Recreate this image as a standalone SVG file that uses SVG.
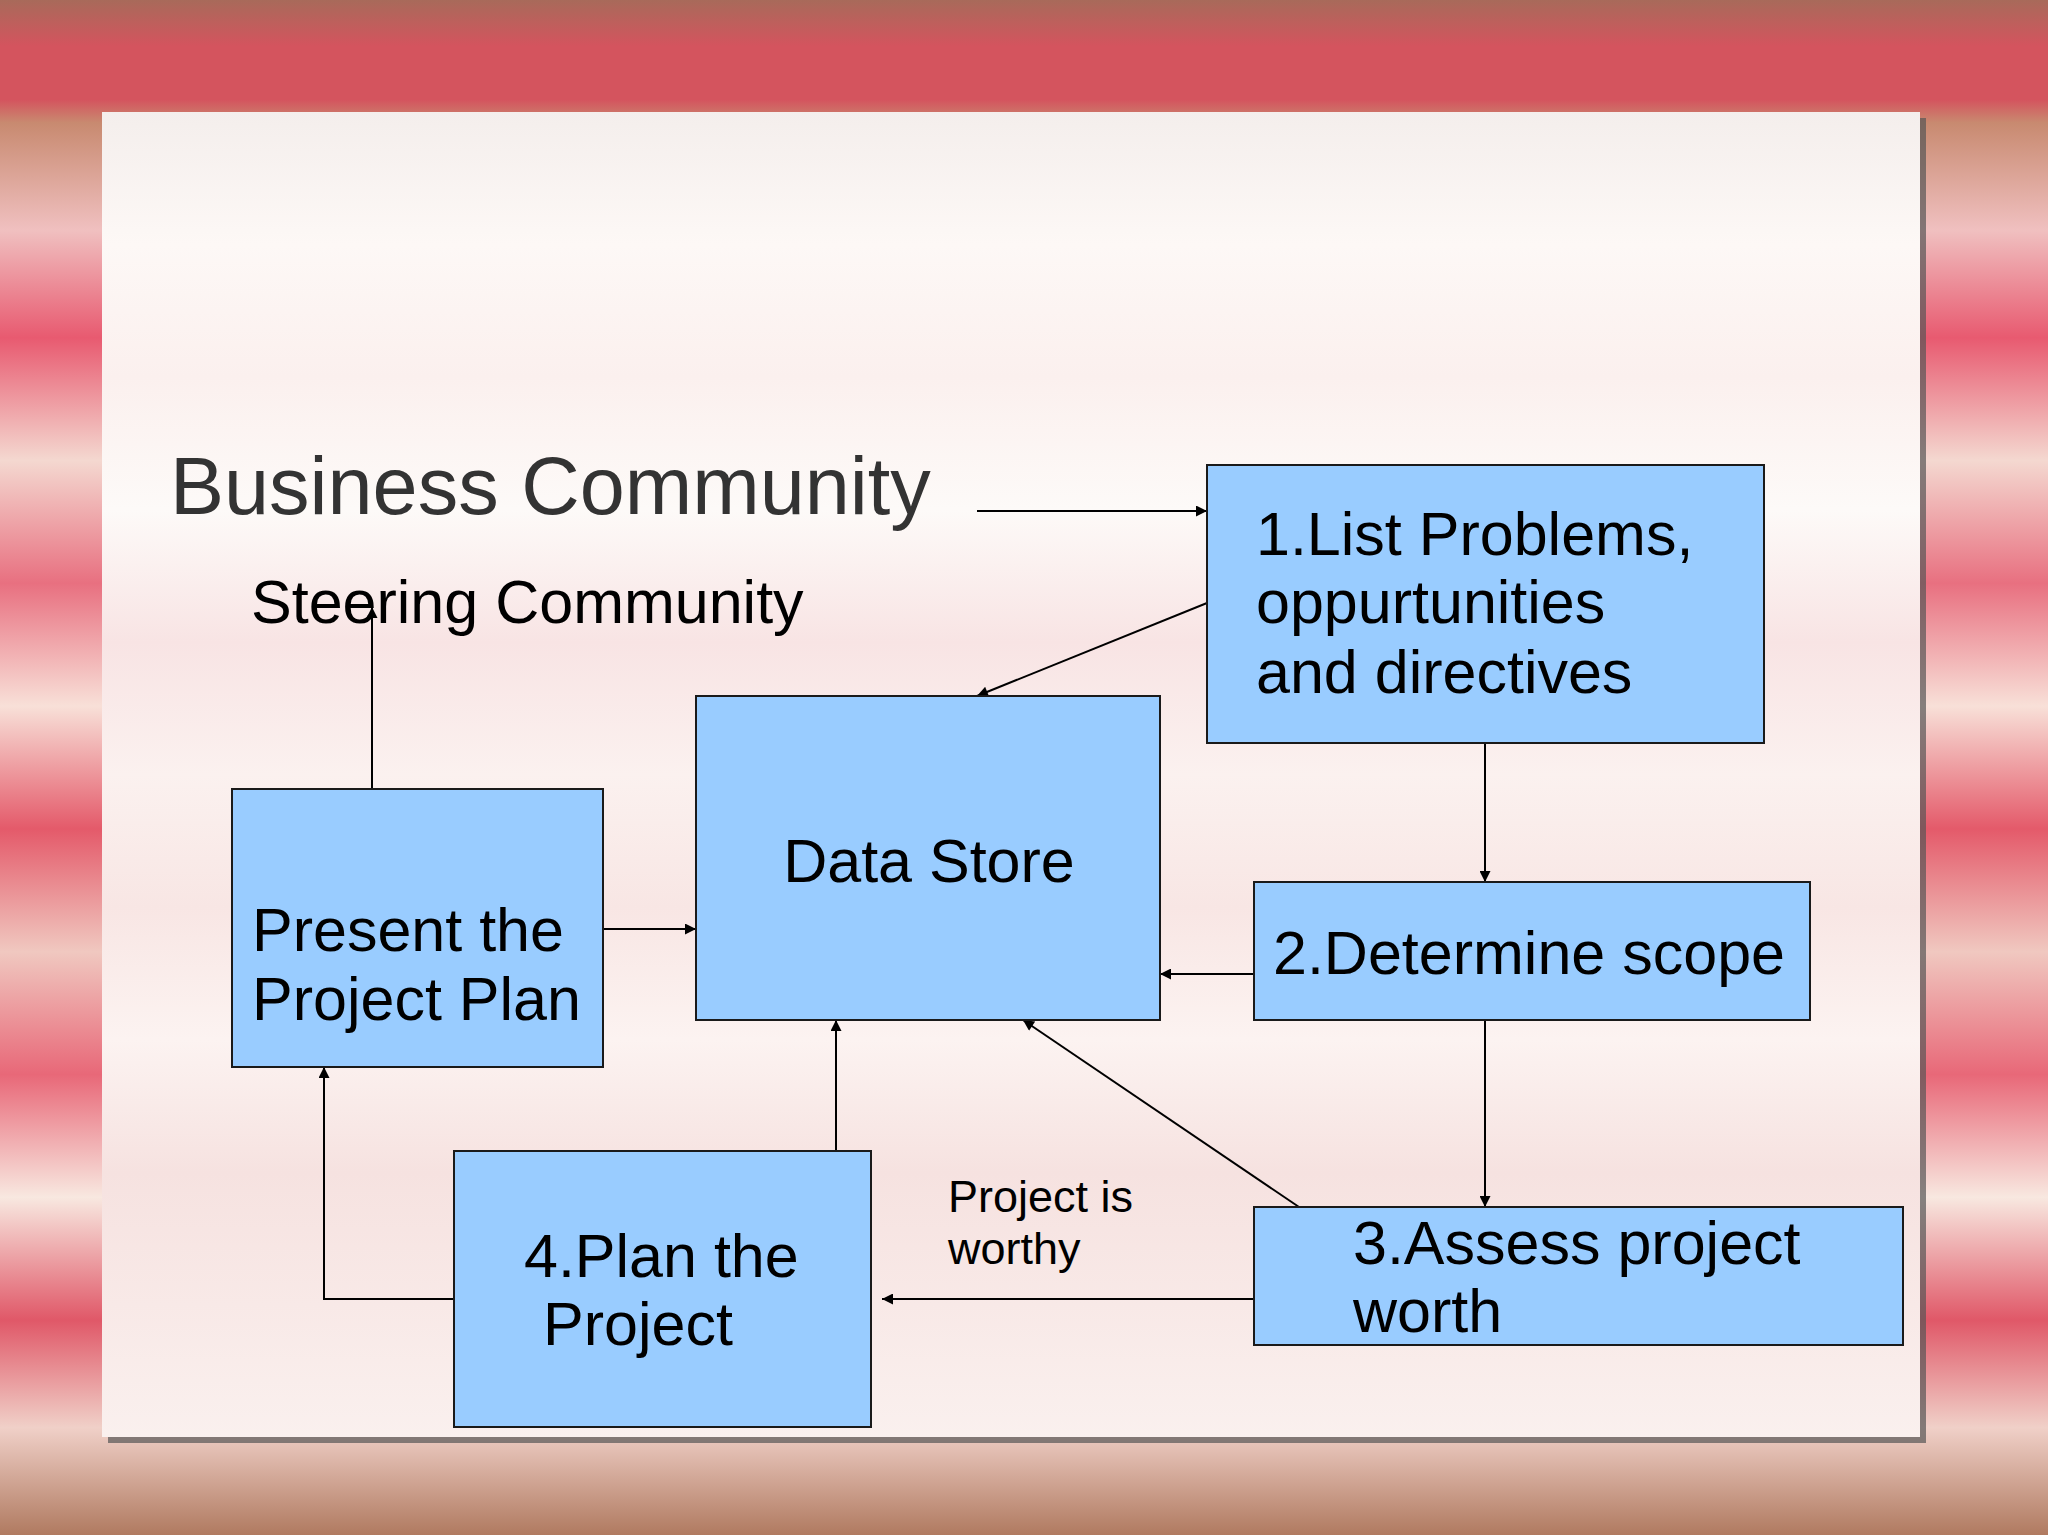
<svg xmlns="http://www.w3.org/2000/svg" width="2048" height="1535" viewBox="0 0 2048 1535">
<defs>
<style>
.box{fill:#99ccff;stroke:#1a1a1a;stroke-width:2}
.t{font-family:"Liberation Sans",Arial,sans-serif;fill:#000}
.c{stroke:#000;stroke-width:2;fill:none;marker-end:url(#ah)}
</style>
<marker id="ah" viewBox="0 0 10 10" refX="10" refY="5" markerWidth="13" markerHeight="11" orient="auto" markerUnits="userSpaceOnUse"><path d="M0,0L10,5L0,10z" fill="#000"/></marker>
<linearGradient id="bg" x1="0" y1="0" x2="0" y2="1">
<stop offset="0" stop-color="#a86a5a"/><stop offset="0.03" stop-color="#d4545e"/><stop offset="0.065" stop-color="#d4545e"/>
<stop offset="0.08" stop-color="#c88a70"/><stop offset="0.15" stop-color="#f0c0c0"/><stop offset="0.22" stop-color="#e85a70"/>
<stop offset="0.3" stop-color="#f4d8d0"/><stop offset="0.38" stop-color="#e87080"/><stop offset="0.46" stop-color="#f8e0d8"/>
<stop offset="0.54" stop-color="#e45a6a"/><stop offset="0.62" stop-color="#f0c8c0"/><stop offset="0.7" stop-color="#e86878"/>
<stop offset="0.78" stop-color="#f8e8e0"/><stop offset="0.86" stop-color="#e05868"/><stop offset="0.93" stop-color="#f0d0c8"/><stop offset="1" stop-color="#b07a60"/>
</linearGradient>
<linearGradient id="pn" x1="0" y1="0" x2="0" y2="1">
<stop offset="0" stop-color="#f4eeec"/><stop offset="0.1" stop-color="#fdf8f6"/><stop offset="0.2" stop-color="#fbf0ee"/>
<stop offset="0.3" stop-color="#fdfaf8"/><stop offset="0.4" stop-color="#f8e4e4"/><stop offset="0.5" stop-color="#fbf1ef"/>
<stop offset="0.6" stop-color="#f8e6e4"/><stop offset="0.7" stop-color="#fcf3f1"/><stop offset="0.8" stop-color="#f6e2e0"/><stop offset="1" stop-color="#faf0ee"/>
</linearGradient>
</defs>
<rect width="2048" height="1535" fill="url(#bg)"/>
<rect x="108" y="118" width="1818" height="1325" fill="#555" opacity="0.7"/>
<rect x="102" y="112" width="1818" height="1325" fill="url(#pn)"/>
<text class="t" x="170" y="514" font-size="81" style="fill:#333">Business Community</text>
<text class="t" x="251" y="623" font-size="61">Steering Community</text>
<g id="connectors">
<path class="c" d="M977,511H1207"/>
<path class="c" d="M1207,603L977,696"/>
<path class="c" d="M1485,743V882"/>
<path class="c" d="M1254,974H1160"/>
<path class="c" d="M1485,1020V1207"/>
<path class="c" d="M1299,1207L1023,1020"/>
<path class="c" d="M1254,1299H882"/>
<path class="c" d="M836,1160V1020"/>
<path class="c" d="M466,1299H324V1067"/>
<path class="c" d="M603,929H696"/>
<path class="c" d="M372,789V607"/>
</g>
<g id="n1"><rect class="box" x="1207" y="465" width="557" height="278"/>
<text class="t" x="1256" y="555" font-size="61">1.List Problems,</text>
<text class="t" x="1256" y="623" font-size="61">oppurtunities</text>
<text class="t" x="1256" y="693" font-size="61">and directives</text></g>
<g id="ds"><rect class="box" x="696" y="696" width="464" height="324"/>
<text class="t" x="929" y="882" font-size="61" text-anchor="middle">Data Store</text></g>
<g id="present"><rect class="box" x="232" y="789" width="371" height="278"/>
<text class="t" x="252" y="951" font-size="61">Present the</text>
<text class="t" x="252" y="1020" font-size="61">Project Plan</text></g>
<g id="n2"><rect class="box" x="1254" y="882" width="556" height="138"/>
<text class="t" x="1273" y="974" font-size="61">2.Determine scope</text></g>
<g id="n3"><rect class="box" x="1254" y="1207" width="649" height="138"/>
<text class="t" x="1353" y="1264" font-size="61">3.Assess project</text>
<text class="t" x="1353" y="1332" font-size="61">worth</text></g>
<g id="n4"><rect class="box" x="454" y="1151" width="417" height="276"/>
<text class="t" x="524" y="1277" font-size="61">4.Plan the</text>
<text class="t" x="543" y="1345" font-size="61">Project</text></g>
<g id="lbl"><text class="t" x="948" y="1212" font-size="45">Project is</text>
<text class="t" x="948" y="1264" font-size="45">worthy</text></g>
</svg>
